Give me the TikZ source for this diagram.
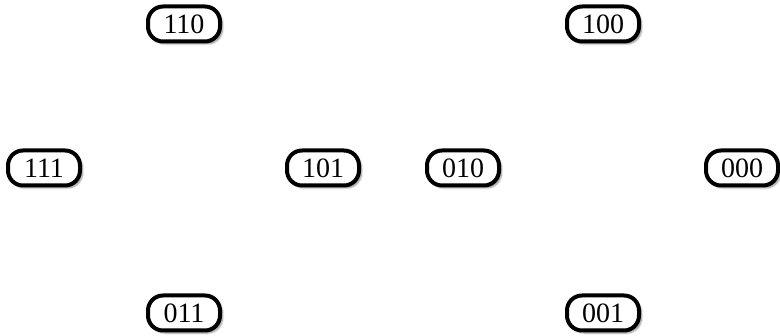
\documentclass[tikz,border=0pt]{standalone}
\usepackage{fontspec}
\setmainfont{Liberation Serif}
\usetikzlibrary{shadows.blur}

\tikzset{
  state/.style={draw=black, line width=4pt, fill=white, rounded corners=15pt,
    minimum width=72pt, minimum height=35pt, inner sep=0pt,
    font=\fontsize{28}{30}\selectfont,
    blur shadow={shadow xshift=2.5pt, shadow yshift=-2.5pt, shadow blur steps=6, shadow opacity=45}}
}

\begin{document}
\begin{tikzpicture}[x=1pt, y=-1pt]
        % canvas
        \useasboundingbox (0,0) rectangle (780,336);

        % Define column and row positions
        \def\rowtop{24}
        \def\rowmid{168}
        \def\rowbot{313}

        % Top row
        \node[state] (n110) at (184, \rowtop) {110};
        \node[state] (n100) at (603, \rowtop) {100};

        % Middle row
        \node[state] (n111) at (44,  \rowmid) {111};
        \node[state] (n101) at (323, \rowmid) {101};
        \node[state] (n010) at (463, \rowmid) {010};
        \node[state] (n000) at (742, \rowmid) {000};

        % Bottom row
        \node[state] (n011) at (184, \rowbot) {011};
        \node[state] (n001) at (603, \rowbot) {001};
\end{tikzpicture}
\end{document}
